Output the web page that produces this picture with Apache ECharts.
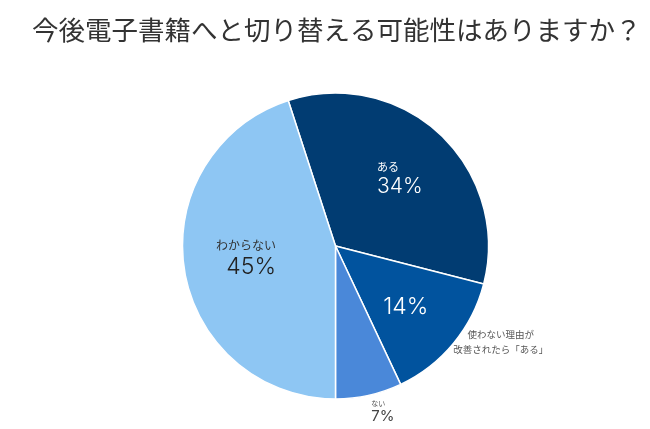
<!DOCTYPE html>
<html><head><meta charset="utf-8">
<script src="https://cdn.jsdelivr.net/npm/echarts@6/dist/echarts.min.js"></script>
<style>html,body{margin:0;padding:0;background:#fff}#c{width:650px;height:429px}</style>
</head><body><div id="c"></div>
<script>
const title = '今後電子書籍へと切り替える可能性はありますか？';
const categories = ['ある', '使わない理由が\n改善されたら「ある」', 'ない', 'わからない'];
const values = [34, 14, 7, 45];
const colors = ['#013c72', '#01539e', '#4a88d9', '#8ec6f3'];

const chart = echarts.init(document.getElementById('c'));
const numFont = 'Inter';
const numWeight = 300;
const jpFont = 'Noto Sans CJK JP';

function innerLabel(i) {
  if (i === 0) return {show: true, formatter: p => '{n|' + p.name + '}\n{v|' + p.value + '%}',
    rich: {n: {fontSize: 11, fontFamily: jpFont, color: '#fff', align: 'left', lineHeight: 16},
           v: {fontSize: 21, fontFamily: numFont, fontWeight: numWeight, color: '#fff', align: 'left', lineHeight: 24}}};
  if (i === 1) return {show: true, formatter: p => '{v|' + p.value + '%}',
    rich: {v: {fontSize: 23, fontFamily: numFont, fontWeight: numWeight, color: '#fff', lineHeight: 26}}};
  if (i === 2) return {show: false};
  return {show: true, formatter: p => '{n|' + p.name + '}\n{v|' + p.value + '%}',
    rich: {n: {fontSize: 12, fontFamily: jpFont, color: '#333', align: 'right', lineHeight: 17},
           v: {fontSize: 23, fontFamily: numFont, fontWeight: numWeight, color: '#222', align: 'right', lineHeight: 26}}};
}
function outerLabel(i) {
  if (i === 1) return {show: true, formatter: p => '{n|' + p.name.replace('\n', '}\n{n|') + '}',
    rich: {n: {fontSize: 9.5, fontFamily: jpFont, color: '#555', align: 'center', lineHeight: 14.5}}};
  if (i === 2) return {show: true, formatter: p => '{n|' + p.name + '}\n{v|' + p.value + '%}',
    rich: {n: {fontSize: 7, fontFamily: jpFont, color: '#555', align: 'left', lineHeight: 9},
           v: {fontSize: 15, fontFamily: numFont, fontWeight: 400, color: '#444', align: 'left', lineHeight: 17}}};
  return {show: false};
}
const innerShift = [[10, -9], [9, 10], [0, 0], [-11, 0]];
const outerShift = [[0, 0], [104, 45], [30, 88], [0, 0]];

const common = {
  type: 'pie', center: [335.5, 246], radius: 153, startAngle: 108, clockwise: true,
  avoidLabelOverlap: false, labelLine: {show: false}, emphasis: {disabled: true}
};

chart.setOption({
  animation: false,
  title: {text: title, left: 27, top: 12,
    textStyle: {fontFamily: jpFont, fontSize: 26.5, fontWeight: 'normal', color: '#333'}},
  series: [
    Object.assign({}, common, {
      z: 2,
      label: {position: 'inside'},
      labelLayout: p => ({dx: innerShift[p.dataIndex][0], dy: innerShift[p.dataIndex][1]}),
      itemStyle: {borderColor: '#fff', borderWidth: 1.5},
      data: categories.map((c, i) => ({name: c, value: values[i],
        itemStyle: {color: colors[i]}, label: Object.assign({position: 'inside'}, innerLabel(i))}))
    }),
    Object.assign({}, common, {
      z: 3, silent: true,
      label: {position: 'inside'},
      labelLayout: p => ({dx: outerShift[p.dataIndex][0], dy: outerShift[p.dataIndex][1]}),
      itemStyle: {color: 'rgba(0,0,0,0)', borderWidth: 0},
      data: categories.map((c, i) => ({name: c, value: values[i],
        label: Object.assign({position: 'inside'}, outerLabel(i))}))
    })
  ]
});
</script></body></html>
